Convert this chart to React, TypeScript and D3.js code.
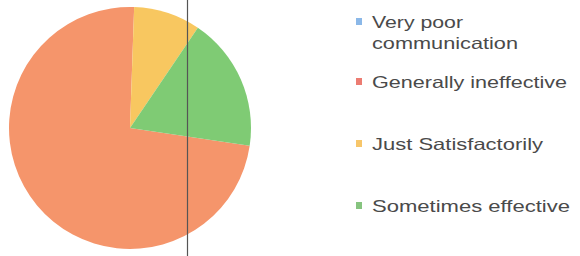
import React from "react";
import * as d3 from "d3";

const categories = [
  "Very poor communication",
  "Generally ineffective",
  "Just Satisfactorily",
  "Sometimes effective",
];
const values = [0, 41, 5, 10];
const legendLines = [["Very poor", "communication"], ["Generally ineffective"], ["Just Satisfactorily"], ["Sometimes effective"]];
const sliceColors = ["#86b6e6", "#f5956b", "#f8c760", "#7fcb74"];
const markerColors = ["#8bb8e8", "#ec7c72", "#f7c66a", "#86c47f"];

export default function App() {
  const W = 580;
  const H = 256;
  const cx = 130;
  const cy = 128;
  const r = 121;
  const start = (98.4 * Math.PI) / 180;
  const pie = d3
    .pie<number>()
    .sort(null)
    .value((d) => d)
    .startAngle(start)
    .endAngle(start + 2 * Math.PI);
  const arcs = pie(values);
  const arc = d3.arc<d3.PieArcDatum<number>>().innerRadius(0).outerRadius(r);

  const legendBaselines = [28, 88, 150, 212];
  const lineWidths: number[][] = [[91, 146], [195], [171], [198]];

  return (
    <svg
      width={W}
      height={H}
      style={{ position: "absolute", left: 0, top: 0, background: "#fff" }}
    >
      <rect width={W} height={H} fill="#fff" />
      <g transform={`translate(${cx},${cy})`}>
        {arcs.map((a, i) => (
          <path key={i} d={arc(a) || ""} fill={sliceColors[i]} />
        ))}
      </g>
      <line x1={187.5} x2={187.5} y1={0} y2={H} stroke="#555" strokeWidth={1.2} />
      {categories.map((c, i) => (
        <g key={c}>
          <rect
            x={356}
            y={legendBaselines[i] - 10}
            width={6}
            height={7}
            fill={markerColors[i]}
          />
          {legendLines[i].map((t, j) => (
            <text
              key={j}
              x={372}
              y={legendBaselines[i] + j * 21}
              fontFamily="Liberation Sans, Arial, sans-serif"
              fontSize={16.5}
              fill="#4a4a4a"
              textLength={lineWidths[i][j]}
              lengthAdjust="spacingAndGlyphs"
            >
              {t}
            </text>
          ))}
        </g>
      ))}
    </svg>
  );
}
